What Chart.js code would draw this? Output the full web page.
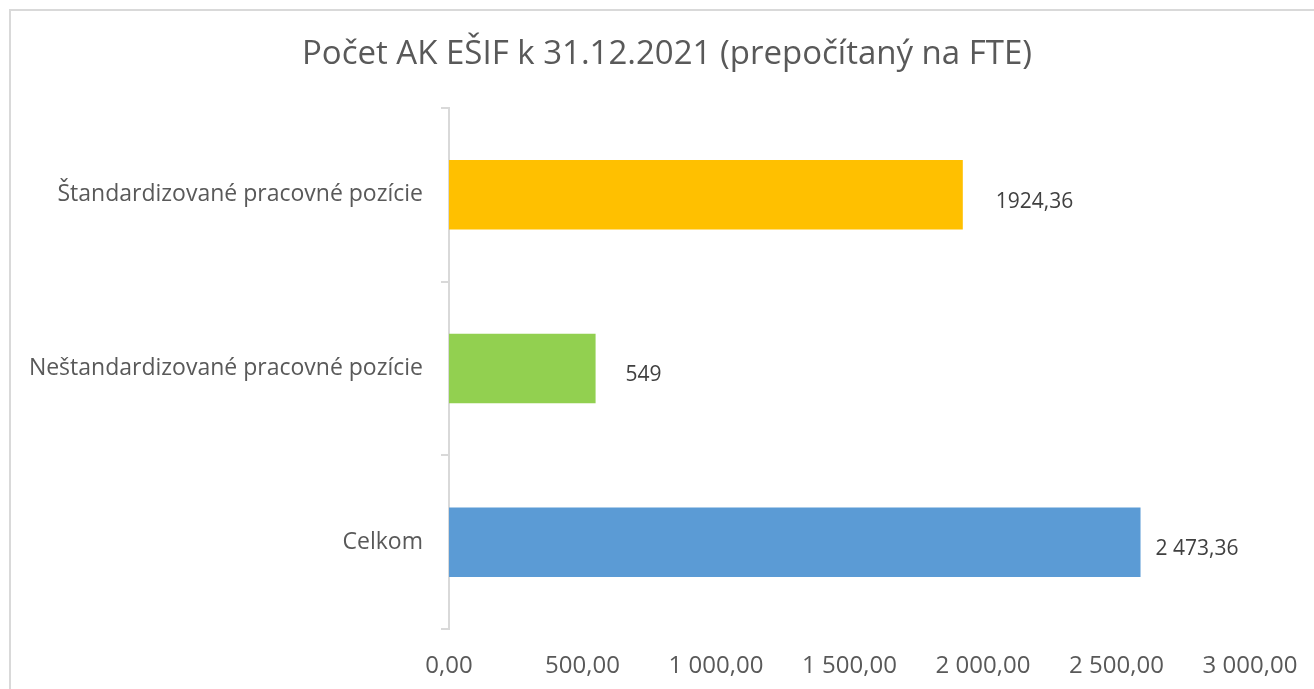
<!DOCTYPE html>
<html>
<head>
<meta charset="utf-8">
<script src="https://cdn.jsdelivr.net/npm/chart.js@4/dist/chart.umd.min.js"></script>
<style>
    html, body { margin: 0; padding: 0; background: #fff; }
    #wrap { position: relative; width: 1314px; height: 689px; overflow: hidden; }
    #frame { position: absolute; left: 9px; top: 9px; width: 1320px; height: 700px; border: 2px solid #d9d9d9; box-sizing: border-box; pointer-events: none; }
    canvas { position: absolute; left: 0; top: 0; }
</style>
</head>
<body>
<div id="wrap">
    <canvas id="fteChart" width="1314" height="689"></canvas>
    <div id="frame"></div>
</div>
<script>
const chartTitle = 'Počet AK EŠIF k 31.12.2021 (prepočítaný na FTE)';
const categories = ['Štandardizované pracovné pozície', 'Neštandardizované pracovné pozície', 'Celkom'];
// bar lengths as drawn in the picture (Celkom bar is longer than its label)
const values = [1924.36, 549, 2590];
const valueLabels = ['1924,36', '549', '2 473,36'];
const barColors = ['#ffc000', '#92d050', '#5b9bd5'];
const xTicks = [0, 500, 1000, 1500, 2000, 2500, 3000];

const FONT = "'Open Sans', sans-serif";

function fmt(v) {
    const s = v.toFixed(2).replace('.', ',');
    const [i, d] = s.split(',');
    return i.replace(/\B(?=(\d{3})+(?!\d))/g, ' ') + ',' + d;
}

const valueLabelPlugin = {
    id: 'valueLabels',
    afterDatasetsDraw(chart, args, opts) {
        const ctx = chart.ctx;
        const meta = chart.getDatasetMeta(0);
        ctx.save();
        ctx.font = '21px ' + FONT;
        ctx.fillStyle = '#404040';
        ctx.textAlign = 'left';
        ctx.textBaseline = 'middle';
        meta.data.forEach((bar, i) => {
            ctx.fillText(valueLabels[i], bar.x + opts.gaps[i], bar.y + 7);
        });
        ctx.restore();
    }
};

// title centred on the whole frame, not on the chart area
const frameTitlePlugin = {
    id: 'frameTitle',
    afterDraw(chart, args, opts) {
        const ctx = chart.ctx;
        ctx.save();
        ctx.font = '33px ' + FONT;
        ctx.fillStyle = '#595959';
        ctx.textAlign = 'center';
        ctx.textBaseline = 'middle';
        ctx.fillText(opts.text, opts.x, opts.y);
        ctx.restore();
    }
};

new Chart(document.getElementById('fteChart'), {
    type: 'bar',
    plugins: [valueLabelPlugin, frameTitlePlugin],
    data: {
        labels: categories,
        datasets: [{
            data: values,
            backgroundColor: barColors,
            barPercentage: 0.4,
            categoryPercentage: 1
        }]
    },
    options: {
        indexAxis: 'y',
        responsive: false,
        animation: false,
        layout: { padding: { left: 0, right: 64, top: 108, bottom: 0 } },
        scales: {
            x: {
                min: 0,
                max: 3000,
                afterBuildTicks: s => { s.ticks = xTicks.map(v => ({ value: v })); },
                afterFit: s => { s.height = 60; },
                grid: { display: false },
                border: { display: false },
                ticks: { color: '#595959', font: { family: FONT, size: 24 }, padding: 15, callback: v => fmt(v) }
            },
            y: {
                afterFit: s => { s.width = 449; },
                grid: { drawOnChartArea: false, color: '#d9d9d9', tickLength: 8, lineWidth: 2, offset: true },
                border: { color: '#d9d9d9', width: 2 },
                ticks: { color: '#595959', font: { family: FONT, size: 23 }, padding: 18 }
            }
        },
        plugins: {
            legend: { display: false },
            tooltip: { enabled: false },
            title: { display: false },
            valueLabels: { gaps: [33, 30, 15] },
            frameTitle: { text: chartTitle, x: 667, y: 55 }
        }
    }
});
</script>
</body>
</html>
